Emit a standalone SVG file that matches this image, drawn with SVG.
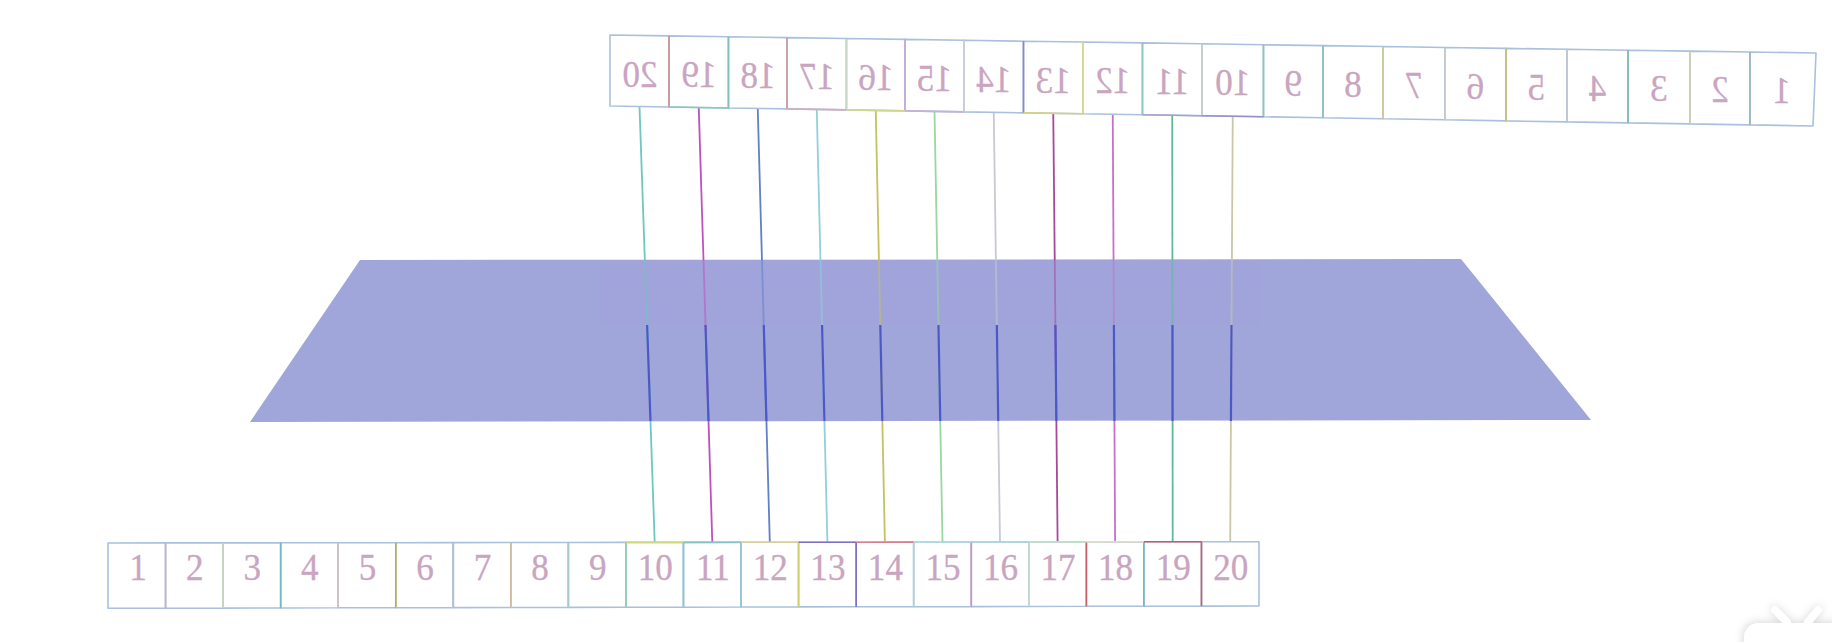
<svg xmlns="http://www.w3.org/2000/svg" width="1832" height="642" viewBox="0 0 1832 642">
<defs>
<style>
.cell{fill:#ffffff;stroke:#aac0dc;stroke-width:1.6;stroke-linejoin:round}
.edge{stroke-width:1.6;fill:none}
.lbl{font-family:"Liberation Serif","DejaVu Serif",serif;font-size:37px;fill:#c9a5c0;stroke:#c9a5c0;stroke-width:0.3;text-anchor:middle}
.conn{stroke-width:1.8;fill:none}
.under{stroke:#4b58c6;stroke-width:2.2;fill:none}
</style>
<clipPath id="lowclip"><polygon points="300,325 1520,325 1591,421 250,421"/></clipPath>
<filter id="shadow" x="-50%" y="-50%" width="200%" height="200%"><feGaussianBlur stdDeviation="4"/></filter>
</defs>
<rect width="1832" height="642" fill="#ffffff"/>

<!-- plane -->
<polygon id="plane" points="360,260 1461,259 1591,420 250,422" fill="#a0a5da"/>

<!-- connectors -->
<g id="connectors">
<line class="conn" stroke="#6cc8c0" x1="639.5" y1="106.5" x2="654.7" y2="542.4"/>
<line class="conn" stroke="#c050c0" x1="698.75" y1="107.5" x2="712.3" y2="542.3"/>
<line class="conn" stroke="#6080c8" x1="757.75" y1="108.4" x2="769.8" y2="542.3"/>
<line class="conn" stroke="#90d0dc" x1="816.75" y1="109.4" x2="827.4" y2="542.2"/>
<line class="conn" stroke="#c8c060" x1="875.75" y1="110.4" x2="884.9" y2="542.1"/>
<line class="conn" stroke="#98d8a0" x1="934.5" y1="111.4" x2="942.5" y2="542.1"/>
<line class="conn" stroke="#c8c8d8" x1="993.75" y1="112.4" x2="1000" y2="542"/>
<line class="conn" stroke="#a84898" x1="1053.25" y1="113.3" x2="1057.6" y2="541.9"/>
<line class="conn" stroke="#c870c8" x1="1112.75" y1="114.3" x2="1115.1" y2="541.9"/>
<line class="conn" stroke="#60b898" x1="1172.25" y1="115.3" x2="1172.7" y2="541.8"/>
<line class="conn" stroke="#c8c8a8" x1="1232.75" y1="116.3" x2="1230.2" y2="541.8"/>
</g>

<!-- crossing of the plane -->
<g id="plane-crossing">
<rect x="600" y="260" width="660" height="65" fill="#a0a5da" opacity="0.45"/>
<g clip-path="url(#lowclip)">
<line class="under" x1="639.5" y1="106.5" x2="654.7" y2="542.4"/>
<line class="under" x1="698.75" y1="107.5" x2="712.3" y2="542.3"/>
<line class="under" x1="757.75" y1="108.4" x2="769.8" y2="542.3"/>
<line class="under" x1="816.75" y1="109.4" x2="827.4" y2="542.2"/>
<line class="under" x1="875.75" y1="110.4" x2="884.9" y2="542.1"/>
<line class="under" x1="934.5" y1="111.4" x2="942.5" y2="542.1"/>
<line class="under" x1="993.75" y1="112.4" x2="1000" y2="542"/>
<line class="under" x1="1053.25" y1="113.3" x2="1057.6" y2="541.9"/>
<line class="under" x1="1112.75" y1="114.3" x2="1115.1" y2="541.9"/>
<line class="under" x1="1172.25" y1="115.3" x2="1172.7" y2="541.8"/>
<line class="under" x1="1232.75" y1="116.3" x2="1230.2" y2="541.8"/>
</g>
</g>

<!-- top strip (mirrored) -->
<g id="top-strip">
<g id="top-20"><polygon class="cell" points="610,35 669,35.9 669,107 610,106"/><text class="lbl" transform="translate(640,86.5) scale(-0.95,1)">20</text></g>
<g id="top-19"><polygon class="cell" points="669,35.9 728.5,36.8 728.5,108 669,107"/><text class="lbl" transform="translate(699,87.4) scale(-0.95,1)">19</text></g>
<g id="top-18"><polygon class="cell" points="728.5,36.8 787,37.6 787,108.9 728.5,108"/><text class="lbl" transform="translate(758,88.2) scale(-0.95,1)">18</text></g>
<g id="top-17"><polygon class="cell" points="787,37.6 846.5,38.5 846.5,109.9 787,108.9"/><text class="lbl" transform="translate(817,89.1) scale(-0.95,1)">17</text></g>
<g id="top-16"><polygon class="cell" points="846.5,38.5 905,39.4 905,110.9 846.5,109.9"/><text class="lbl" transform="translate(876,89.9) scale(-0.95,1)">16</text></g>
<g id="top-15"><polygon class="cell" points="905,39.4 964,40.3 964,111.9 905,110.9"/><text class="lbl" transform="translate(934.5,90.8) scale(-0.95,1)">15</text></g>
<g id="top-14"><polygon class="cell" points="964,40.3 1023.5,41.2 1023.5,112.9 964,111.9"/><text class="lbl" transform="translate(993.75,91.7) scale(-0.95,1)">14</text></g>
<g id="top-13"><polygon class="cell" points="1023.5,41.2 1083,42 1083,113.8 1023.5,112.9"/><text class="lbl" transform="translate(1053.25,92.5) scale(-0.95,1)">13</text></g>
<g id="top-12"><polygon class="cell" points="1083,42 1142.5,42.9 1142.5,114.8 1083,113.8"/><text class="lbl" transform="translate(1112.75,93.4) scale(-0.95,1)">12</text></g>
<g id="top-11"><polygon class="cell" points="1142.5,42.9 1202,43.8 1202,115.8 1142.5,114.8"/><text class="lbl" transform="translate(1172.25,94.3) scale(-0.95,1)">11</text></g>
<g id="top-10"><polygon class="cell" points="1202,43.8 1263.5,44.8 1263.5,116.8 1202,115.8"/><text class="lbl" transform="translate(1232.75,95.1) scale(-0.95,1)">10</text></g>
<g id="top-9"><polygon class="cell" points="1263.5,44.8 1323,45.6 1323,117.8 1263.5,116.8"/><text class="lbl" transform="translate(1293.25,96) scale(-0.95,1)">9</text></g>
<g id="top-8"><polygon class="cell" points="1323,45.6 1383,46.5 1383,118.8 1323,117.8"/><text class="lbl" transform="translate(1353,96.9) scale(-0.95,1)">8</text></g>
<g id="top-7"><polygon class="cell" points="1383,46.5 1445,47.5 1445,119.8 1383,118.8"/><text class="lbl" transform="translate(1414,97.8) scale(-0.95,1)">7</text></g>
<g id="top-6"><polygon class="cell" points="1445,47.5 1506,48.4 1506,120.9 1445,119.8"/><text class="lbl" transform="translate(1475.5,98.7) scale(-0.95,1)">6</text></g>
<g id="top-5"><polygon class="cell" points="1506,48.4 1567,49.3 1567,121.9 1506,120.9"/><text class="lbl" transform="translate(1536.5,99.6) scale(-0.95,1)">5</text></g>
<g id="top-4"><polygon class="cell" points="1567,49.3 1628,50.2 1628,122.9 1567,121.9"/><text class="lbl" transform="translate(1597.5,100.5) scale(-0.95,1)">4</text></g>
<g id="top-3"><polygon class="cell" points="1628,50.2 1690,51.1 1690,123.9 1628,122.9"/><text class="lbl" transform="translate(1659,101.4) scale(-0.95,1)">3</text></g>
<g id="top-2"><polygon class="cell" points="1690,51.1 1750,52 1750,124.9 1690,123.9"/><text class="lbl" transform="translate(1720,102.2) scale(-0.95,1)">2</text></g>
<g id="top-1"><polygon class="cell" points="1750,52 1816,53 1813,126 1750,124.9"/><text class="lbl" transform="translate(1782,103.1) scale(-0.95,1)">1</text></g>
</g>
<g id="top-edges" class="edge">
<line stroke="#d09090" x1="669" y1="35.9" x2="669" y2="107"/>
<line stroke="#7fc0c0" x1="728.5" y1="36.8" x2="728.5" y2="108"/>
<line stroke="#d09a9a" x1="787" y1="37.6" x2="787" y2="108.9"/>
<line stroke="#c8d8c8" x1="846.5" y1="38.5" x2="846.5" y2="109.9"/>
<line stroke="#c8a8d8" x1="905" y1="39.4" x2="905" y2="110.9"/>
<line stroke="#d0d0d8" x1="964" y1="40.3" x2="964" y2="111.9"/>
<line stroke="#8c88c8" x1="1023.5" y1="41.2" x2="1023.5" y2="112.9"/>
<line stroke="#e0dc80" x1="1083" y1="42" x2="1083" y2="113.8"/>
<line stroke="#8cc8c8" x1="1142.5" y1="42.9" x2="1142.5" y2="114.8"/>
<line stroke="#c8d0d8" x1="1202" y1="43.8" x2="1202" y2="115.8"/>
<line stroke="#90c8b0" x1="1263.5" y1="44.8" x2="1263.5" y2="116.8"/>
<line stroke="#88c0c0" x1="1323" y1="45.6" x2="1323" y2="117.8"/>
<line stroke="#d8c890" x1="1383" y1="46.5" x2="1383" y2="118.8"/>
<line stroke="#c8ccd0" x1="1445" y1="47.5" x2="1445" y2="119.8"/>
<line stroke="#c8c070" x1="1506" y1="48.4" x2="1506" y2="120.9"/>
<line stroke="#c0c8d0" x1="1567" y1="49.3" x2="1567" y2="121.9"/>
<line stroke="#80b8b8" x1="1628" y1="50.2" x2="1628" y2="122.9"/>
<line stroke="#d0d0b0" x1="1690" y1="51.1" x2="1690" y2="123.9"/>
<line stroke="#98b8c0" x1="1750" y1="52" x2="1750" y2="124.9"/>
<line stroke="#88c8b8" x1="669" y1="107" x2="728.5" y2="108"/>
<line stroke="#d0b0b8" x1="787" y1="108.9" x2="846.5" y2="109.9"/>
<line stroke="#d0d890" x1="846.5" y1="109.9" x2="905" y2="110.9"/>
<line stroke="#c8b0d8" x1="905" y1="110.9" x2="964" y2="111.9"/>
<line stroke="#d8d080" x1="1023.5" y1="112.9" x2="1083" y2="113.8"/>
<line stroke="#a8a0d0" x1="1142.5" y1="114.8" x2="1202" y2="115.8"/>
<line stroke="#9890c8" x1="1202" y1="115.8" x2="1263.5" y2="116.8"/>
</g>

<!-- bottom strip -->
<g id="bottom-strip">
<g id="bot-1"><polygon class="cell" points="108,543 165.6,542.9 165.6,608.2 108,608.3"/><text class="lbl" transform="translate(138,580) scale(0.95,1)">1</text></g>
<g id="bot-2"><polygon class="cell" points="165.6,542.9 223.1,542.9 223.1,608.1 165.6,608.2"/><text class="lbl" transform="translate(194.8,580) scale(0.95,1)">2</text></g>
<g id="bot-3"><polygon class="cell" points="223.1,542.9 280.7,542.8 280.7,608 223.1,608.1"/><text class="lbl" transform="translate(252.4,580) scale(0.95,1)">3</text></g>
<g id="bot-4"><polygon class="cell" points="280.7,542.8 338.2,542.7 338.2,607.8 280.7,608"/><text class="lbl" transform="translate(309.9,580) scale(0.95,1)">4</text></g>
<g id="bot-5"><polygon class="cell" points="338.2,542.7 395.8,542.7 395.8,607.7 338.2,607.8"/><text class="lbl" transform="translate(367.5,580) scale(0.95,1)">5</text></g>
<g id="bot-6"><polygon class="cell" points="395.8,542.7 453.3,542.6 453.3,607.6 395.8,607.7"/><text class="lbl" transform="translate(425,580) scale(0.95,1)">6</text></g>
<g id="bot-7"><polygon class="cell" points="453.3,542.6 510.9,542.5 510.9,607.5 453.3,607.6"/><text class="lbl" transform="translate(482.6,580) scale(0.95,1)">7</text></g>
<g id="bot-8"><polygon class="cell" points="510.9,542.5 568.4,542.5 568.4,607.4 510.9,607.5"/><text class="lbl" transform="translate(540.1,580) scale(0.95,1)">8</text></g>
<g id="bot-9"><polygon class="cell" points="568.4,542.5 626,542.4 626,607.3 568.4,607.4"/><text class="lbl" transform="translate(597.7,580) scale(0.95,1)">9</text></g>
<g id="bot-10"><polygon class="cell" points="626,542.4 683.5,542.4 683.5,607.2 626,607.3"/><text class="lbl" transform="translate(655.2,580) scale(0.95,1)">10</text></g>
<g id="bot-11"><polygon class="cell" points="683.5,542.4 741.1,542.3 741.1,607 683.5,607.2"/><text class="lbl" transform="translate(712.8,580) scale(0.95,1)">11</text></g>
<g id="bot-12"><polygon class="cell" points="741.1,542.3 798.6,542.2 798.6,606.9 741.1,607"/><text class="lbl" transform="translate(770.3,580) scale(0.95,1)">12</text></g>
<g id="bot-13"><polygon class="cell" points="798.6,542.2 856.2,542.2 856.2,606.8 798.6,606.9"/><text class="lbl" transform="translate(827.9,580) scale(0.95,1)">13</text></g>
<g id="bot-14"><polygon class="cell" points="856.2,542.2 913.7,542.1 913.7,606.7 856.2,606.8"/><text class="lbl" transform="translate(885.4,580) scale(0.95,1)">14</text></g>
<g id="bot-15"><polygon class="cell" points="913.7,542.1 971.3,542 971.3,606.6 913.7,606.7"/><text class="lbl" transform="translate(943,580) scale(0.95,1)">15</text></g>
<g id="bot-16"><polygon class="cell" points="971.3,542 1028.8,542 1028.8,606.5 971.3,606.6"/><text class="lbl" transform="translate(1000.5,580) scale(0.95,1)">16</text></g>
<g id="bot-17"><polygon class="cell" points="1028.8,542 1086.4,541.9 1086.4,606.3 1028.8,606.5"/><text class="lbl" transform="translate(1058.1,580) scale(0.95,1)">17</text></g>
<g id="bot-18"><polygon class="cell" points="1086.4,541.9 1143.9,541.8 1143.9,606.2 1086.4,606.3"/><text class="lbl" transform="translate(1115.6,580) scale(0.95,1)">18</text></g>
<g id="bot-19"><polygon class="cell" points="1143.9,541.8 1201.5,541.8 1201.5,606.1 1143.9,606.2"/><text class="lbl" transform="translate(1173.2,580) scale(0.95,1)">19</text></g>
<g id="bot-20"><polygon class="cell" points="1201.5,541.8 1259,541.7 1259,606 1201.5,606.1"/><text class="lbl" transform="translate(1230.7,580) scale(0.95,1)">20</text></g>
</g>
<g id="bottom-edges" class="edge">
<line stroke="#d0b0c0" x1="165.6" y1="542.9" x2="165.6" y2="608.2"/>
<line stroke="#d0d8b0" x1="223.1" y1="542.9" x2="223.1" y2="608.1"/>
<line stroke="#70b8c8" x1="280.7" y1="542.8" x2="280.7" y2="608"/>
<line stroke="#d0c0c8" x1="338.2" y1="542.7" x2="338.2" y2="607.8"/>
<line stroke="#b8b050" x1="395.8" y1="542.7" x2="395.8" y2="607.7"/>
<line stroke="#b8b8d0" x1="453.3" y1="542.6" x2="453.3" y2="607.6"/>
<line stroke="#d8b898" x1="510.9" y1="542.5" x2="510.9" y2="607.5"/>
<line stroke="#a8c8d0" x1="568.4" y1="542.5" x2="568.4" y2="607.4"/>
<line stroke="#90d0b0" x1="626" y1="542.4" x2="626" y2="607.3"/>
<line stroke="#88c8c8" x1="683.5" y1="542.4" x2="683.5" y2="607.2"/>
<line stroke="#90c8d0" x1="741.1" y1="542.3" x2="741.1" y2="607"/>
<line stroke="#d0d070" x1="798.6" y1="542.2" x2="798.6" y2="606.9"/>
<line stroke="#8070c0" x1="856.2" y1="542.2" x2="856.2" y2="606.8"/>
<line stroke="#a8d8d0" x1="913.7" y1="542.1" x2="913.7" y2="606.7"/>
<line stroke="#d890b8" x1="971.3" y1="542" x2="971.3" y2="606.6"/>
<line stroke="#c0d8d0" x1="1028.8" y1="542" x2="1028.8" y2="606.5"/>
<line stroke="#c86070" x1="1086.4" y1="541.9" x2="1086.4" y2="606.3"/>
<line stroke="#70b8c0" x1="1143.9" y1="541.8" x2="1143.9" y2="606.2"/>
<line stroke="#c86068" x1="1201.5" y1="541.8" x2="1201.5" y2="606.1"/>
<line stroke="#d0d880" x1="626" y1="542.4" x2="683.5" y2="542.4"/>
<line stroke="#88c0c8" x1="683.5" y1="542.4" x2="741.1" y2="542.3"/>
<line stroke="#d8d0a0" x1="741.1" y1="542.3" x2="798.6" y2="542.2"/>
<line stroke="#8070c8" x1="798.6" y1="542.2" x2="856.2" y2="542.2"/>
<line stroke="#d88090" x1="856.2" y1="542.2" x2="913.7" y2="542.1"/>
<line stroke="#b0dce0" x1="913.7" y1="542.1" x2="971.3" y2="542"/>
<line stroke="#a8d8e0" x1="971.3" y1="542" x2="1028.8" y2="542"/>
<line stroke="#c0e0c8" x1="1028.8" y1="542" x2="1086.4" y2="541.9"/>
<line stroke="#e0e0c0" x1="1086.4" y1="541.9" x2="1143.9" y2="541.8"/>
<line stroke="#c85868" x1="1143.9" y1="541.8" x2="1201.5" y2="541.8"/>
</g>

<!-- corner overlay icon -->
<g id="corner-icon">
<g filter="url(#shadow)" fill="#c8c8c8" opacity="0.7">
<rect x="1743" y="622" width="120" height="40" rx="14"/>
<line x1="1775" y1="610" x2="1787" y2="622" stroke="#c8c8c8" stroke-width="8" stroke-linecap="round"/>
<line x1="1818" y1="610" x2="1808" y2="622" stroke="#c8c8c8" stroke-width="8" stroke-linecap="round"/>
</g>
<rect x="1744" y="623" width="120" height="40" rx="14" fill="#ffffff"/>
<line x1="1775" y1="610" x2="1787" y2="622" stroke="#ffffff" stroke-width="8" stroke-linecap="round"/>
<line x1="1818" y1="610" x2="1808" y2="622" stroke="#ffffff" stroke-width="8" stroke-linecap="round"/>
</g>
</svg>
